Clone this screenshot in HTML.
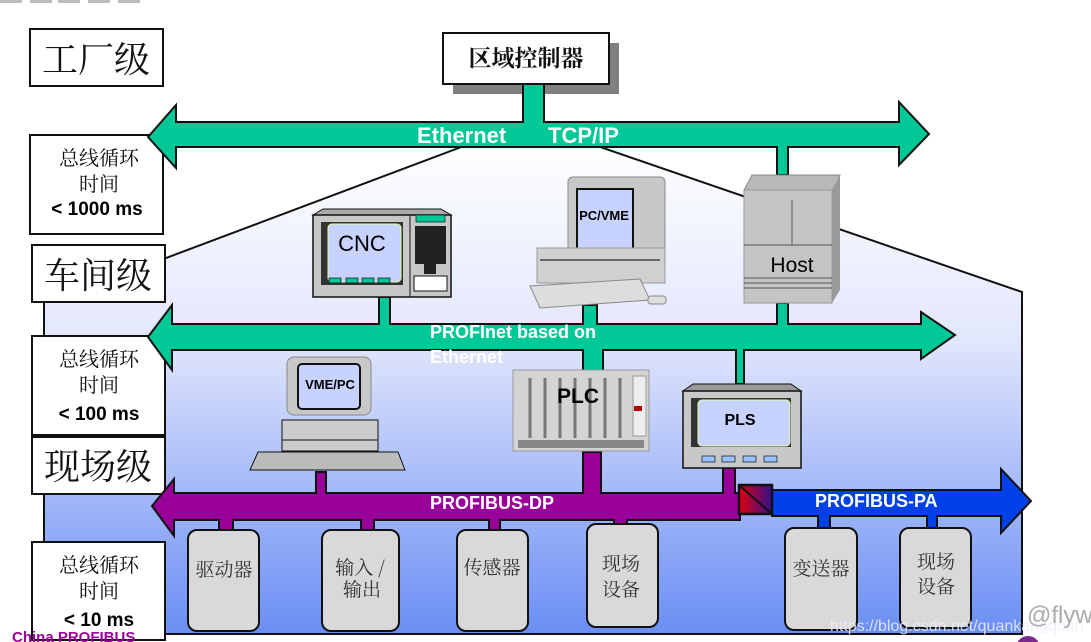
<!DOCTYPE html>
<html><head><meta charset="utf-8"><style>
html,body{margin:0;padding:0;background:#fff;width:1091px;height:642px;overflow:hidden}
svg{display:block}
.cj{font-family:"Noto Serif CJK SC","Liberation Serif",serif;fill:#111}
.b{font-family:"Liberation Sans",sans-serif;font-weight:bold}
</style></head><body>
<svg width="1091" height="642" viewBox="0 0 1091 642" xmlns="http://www.w3.org/2000/svg">
<defs>
<linearGradient id="hg" x1="0" y1="0" x2="0" y2="1">
<stop offset="0" stop-color="#ffffff"/><stop offset="0.4" stop-color="#e2e7fc"/><stop offset="1" stop-color="#6a8ef4"/>
</linearGradient>
<linearGradient id="cv" x1="0" y1="0" x2="1" y2="0"><stop offset="0" stop-color="#e00010"/><stop offset="1" stop-color="#30108a"/></linearGradient>
</defs>
<g fill="#bbb"><rect x="0" y="0" width="22" height="3"/><rect x="30" y="0" width="22" height="3"/><rect x="58" y="0" width="22" height="3"/><rect x="88" y="0" width="22" height="3"/><rect x="118" y="0" width="22" height="3"/></g>
<!-- house -->
<polygon points="44,290 166,258 480,140 580,140 1022,292 1022,634 44,634" fill="url(#hg)" stroke="#111" stroke-width="2"/>
<!-- left boxes -->
<g fill="#fff" stroke="#111" stroke-width="2">
<rect x="30" y="29" width="133" height="57"/>
<rect x="30" y="135" width="133" height="99"/>
<rect x="32" y="245" width="133" height="57"/>
<rect x="32" y="336" width="133" height="99"/>
<rect x="32" y="437" width="133" height="57"/>
<rect x="32" y="542" width="133" height="98"/>
</g>
<text class="cj" x="96" y="72" font-size="36" text-anchor="middle">工厂级</text>
<text class="cj" x="99" y="165" font-size="20" text-anchor="middle">总线循环</text>
<text class="cj" x="99" y="191" font-size="20" text-anchor="middle">时间</text>
<text class="b" x="97" y="215" font-size="19" text-anchor="middle">&lt; 1000 ms</text>
<text class="cj" x="98" y="288" font-size="36" text-anchor="middle">车间级</text>
<text class="cj" x="99" y="366" font-size="20" text-anchor="middle">总线循环</text>
<text class="cj" x="99" y="392" font-size="20" text-anchor="middle">时间</text>
<text class="b" x="99" y="420" font-size="19" text-anchor="middle">&lt; 100 ms</text>
<text class="cj" x="98" y="479" font-size="36" text-anchor="middle">现场级</text>
<text class="cj" x="99" y="572" font-size="20" text-anchor="middle">总线循环</text>
<text class="cj" x="99" y="598" font-size="20" text-anchor="middle">时间</text>
<text class="b" x="99" y="626" font-size="19" text-anchor="middle">&lt; 10 ms</text>
<text class="b" x="12" y="642" font-size="15" fill="#a0009a">China PROFIBUS</text>
<!-- region controller -->
<rect x="453" y="43" width="166" height="51" fill="#808080"/>
<rect x="443" y="33" width="166" height="51" fill="#fff" stroke="#111" stroke-width="2"/>
<text class="cj" x="526" y="66" font-size="23" font-weight="bold" text-anchor="middle">区域控制器</text>
<!-- Ethernet arrow -->
<polygon points="148,137 176,105 176,122 523,122 523,84 544,84 544,122 899,122 899,102 929,134 899,165 899,147 788,147 788,175 777,175 777,147 176,147 176,168" fill="#00c896" stroke="#111" stroke-width="2"/>
<text class="b" x="417" y="143" font-size="22" fill="#fff">Ethernet</text>
<text class="b" x="548" y="143" font-size="22" fill="#fff">TCP/IP</text>
<!-- PROFInet arrow -->
<polygon points="148,337 172,305 172,324 379,324 379,297 390,297 390,324 583,324 583,305 597,305 597,324 777,324 777,303 788,303 788,324 921,324 921,312 955,335 921,359 921,350 744,350 744,384 736,384 736,350 603,350 603,371 583,371 583,350 172,350 172,370" fill="#00c896" stroke="#111" stroke-width="2"/>
<text class="b" x="430" y="338" font-size="18" fill="#fff">PROFInet based on</text>
<text class="b" x="430" y="363" font-size="18" fill="#fff">Ethernet</text>
<!-- PROFIBUS-DP -->
<polygon points="152,506 174,479 174,493 316,493 316,472 326,472 326,493 583,493 583,452 601,452 601,493 723,493 723,468 735,468 735,493 740,493 740,520 627,520 627,526 614,526 614,520 500,520 500,532 489,532 489,520 374,520 374,532 361,532 361,520 233,520 233,532 219,532 219,520 174,520 174,536" fill="#990099" stroke="#111" stroke-width="2"/>
<text class="b" x="430" y="509" font-size="18" fill="#fff">PROFIBUS-DP</text>
<!-- PROFIBUS-PA -->
<polygon points="772,490 1001,490 1001,469 1031,501 1001,533 1001,516 937,516 937,530 927,530 927,516 830,516 830,530 818,530 818,516 772,516" fill="#0040e8" stroke="#111" stroke-width="2"/>
<rect x="739" y="485" width="33" height="29" fill="url(#cv)" stroke="#111" stroke-width="2.5"/>
<line x1="739" y1="485" x2="772" y2="514" stroke="#111" stroke-width="2"/>
<text class="b" x="815" y="507" font-size="18" fill="#fff">PROFIBUS-PA</text>
<!-- devices -->
<g fill="#d9d9d9" stroke="#111" stroke-width="2">
<rect x="188" y="530" width="71" height="101" rx="9"/>
<rect x="322" y="530" width="77" height="101" rx="9"/>
<rect x="457" y="530" width="71" height="101" rx="9"/>
<rect x="587" y="524" width="71" height="103" rx="9"/>
<rect x="785" y="528" width="72" height="102" rx="9"/>
<rect x="900" y="528" width="71" height="100" rx="9"/>
</g>
<g class="cj" font-size="19" text-anchor="middle" style="fill:#333">
<text x="224" y="576">驱动器</text>
<text x="360" y="574">输入 /</text><text x="362" y="596">输出</text>
<text x="492" y="574">传感器</text>
<text x="621" y="570">现场</text><text x="621" y="596">设备</text>
<text x="821" y="575">变送器</text>
<text x="936" y="568">现场</text><text x="936" y="593">设备</text>
</g>
<!-- CNC -->
<polygon points="313,215 323,209 441,209 451,215" fill="#aaa" stroke="#111"/>
<rect x="313" y="215" width="138" height="82" fill="#c8c8c8" stroke="#111" stroke-width="1.5"/>
<line x1="410" y1="215" x2="410" y2="297" stroke="#111"/>
<rect x="321" y="222" width="82" height="63" fill="#333"/>
<rect x="328" y="224" width="73" height="58" rx="4" fill="#c8d2ff" stroke="#dfffa0"/>
<text x="362" y="251" font-family="Liberation Sans,sans-serif" font-size="22" text-anchor="middle">CNC</text>
<g fill="#00c896" stroke="#111" stroke-width="0.7"><rect x="329" y="278" width="12" height="5"/><rect x="346" y="278" width="12" height="5"/><rect x="362" y="278" width="12" height="5"/><rect x="378" y="278" width="12" height="5"/><rect x="416" y="215" width="29" height="7"/></g>
<rect x="415" y="226" width="31" height="38" fill="#222"/><rect x="424" y="264" width="12" height="10" fill="#222"/>
<rect x="414" y="276" width="33" height="15" fill="#fff" stroke="#111"/>
<!-- PC/VME -->
<rect x="568" y="177" width="97" height="75" rx="5" fill="#c8c8c8" stroke="#888"/>
<rect x="577" y="189" width="56" height="60" fill="#c8d2ff" stroke="#111" stroke-width="2"/>
<text class="b" x="604" y="220" font-size="13" text-anchor="middle">PC/VME</text>
<rect x="537" y="248" width="128" height="35" fill="#d0d0d0" stroke="#999"/>
<line x1="540" y1="260" x2="660" y2="260" stroke="#666" stroke-width="2"/>
<polygon points="530,286 640,279 650,300 540,308" fill="#ddd" stroke="#888"/>
<rect x="648" y="296" width="18" height="8" rx="3" fill="#ddd" stroke="#888"/>
<!-- Host -->
<polygon points="744,190 752,175 840,175 835,190" fill="#b8b8b8" stroke="#888"/>
<rect x="744" y="190" width="88" height="113" fill="#c4c4c4" stroke="#999"/>
<polygon points="832,190 840,175 840,290 832,303" fill="#999"/>
<line x1="792" y1="200" x2="792" y2="245" stroke="#555"/>
<line x1="744" y1="245" x2="832" y2="245" stroke="#555"/>
<line x1="744" y1="278" x2="832" y2="278" stroke="#555"/><line x1="744" y1="283" x2="832" y2="283" stroke="#555"/><line x1="744" y1="288" x2="832" y2="288" stroke="#555"/>
<text x="792" y="272" font-family="Liberation Sans,sans-serif" font-size="21" text-anchor="middle">Host</text>
<!-- PLC -->
<rect x="513" y="370" width="136" height="81" fill="#d4d4d4" stroke="#999"/>
<g stroke="#777" stroke-width="3"><line x1="530" y1="378" x2="530" y2="438"/><line x1="545" y1="378" x2="545" y2="438"/><line x1="560" y1="378" x2="560" y2="438"/><line x1="575" y1="378" x2="575" y2="438"/><line x1="590" y1="378" x2="590" y2="438"/><line x1="605" y1="378" x2="605" y2="438"/><line x1="620" y1="378" x2="620" y2="438"/></g>
<rect x="633" y="376" width="13" height="60" fill="#eee" stroke="#999"/><rect x="634" y="406" width="8" height="5" fill="#b00"/>
<rect x="518" y="440" width="126" height="8" fill="#888"/>
<text class="b" x="578" y="403" font-size="21" text-anchor="middle">PLC</text>
<!-- PLS -->
<polygon points="683,391 693,384 791,384 801,391" fill="#999" stroke="#111"/>
<rect x="683" y="391" width="118" height="77" fill="#c8c8c8" stroke="#111" stroke-width="1.5"/>
<rect x="691" y="398" width="100" height="49" fill="#333"/>
<rect x="698" y="400" width="92" height="46" rx="4" fill="#c8d2ff" stroke="#dfffa0"/>
<text class="b" x="740" y="425" font-size="16" text-anchor="middle">PLS</text>
<g fill="#99c0ff" stroke="#111" stroke-width="0.7"><rect x="702" y="456" width="13" height="6"/><rect x="722" y="456" width="13" height="6"/><rect x="743" y="456" width="13" height="6"/><rect x="764" y="456" width="13" height="6"/></g>
<!-- VME/PC -->
<rect x="287" y="357" width="84" height="58" rx="7" fill="#c8c8c8" stroke="#888"/>
<rect x="298" y="364" width="62" height="45" rx="4" fill="#c8d2ff" stroke="#111" stroke-width="2"/>
<text class="b" x="330" y="389" font-size="13" text-anchor="middle">VME/PC</text>
<rect x="282" y="420" width="96" height="31" fill="#ccc" stroke="#111"/>
<line x1="282" y1="440" x2="378" y2="440" stroke="#111"/>
<polygon points="258,452 398,452 405,470 250,470" fill="#bbb" stroke="#111"/>
<!-- watermark -->
<text x="830" y="631" font-family="Liberation Sans,sans-serif" font-size="16" fill="#eef" opacity="0.85">https://blog.csdn.net/quankangquan</text>
<text x="1027" y="623" font-family="Liberation Sans,sans-serif" font-size="24" fill="#aaa">@flyw</text>
<circle cx="1028" cy="648" r="12" fill="#7a2a8a"/>
</svg>
</body></html>
